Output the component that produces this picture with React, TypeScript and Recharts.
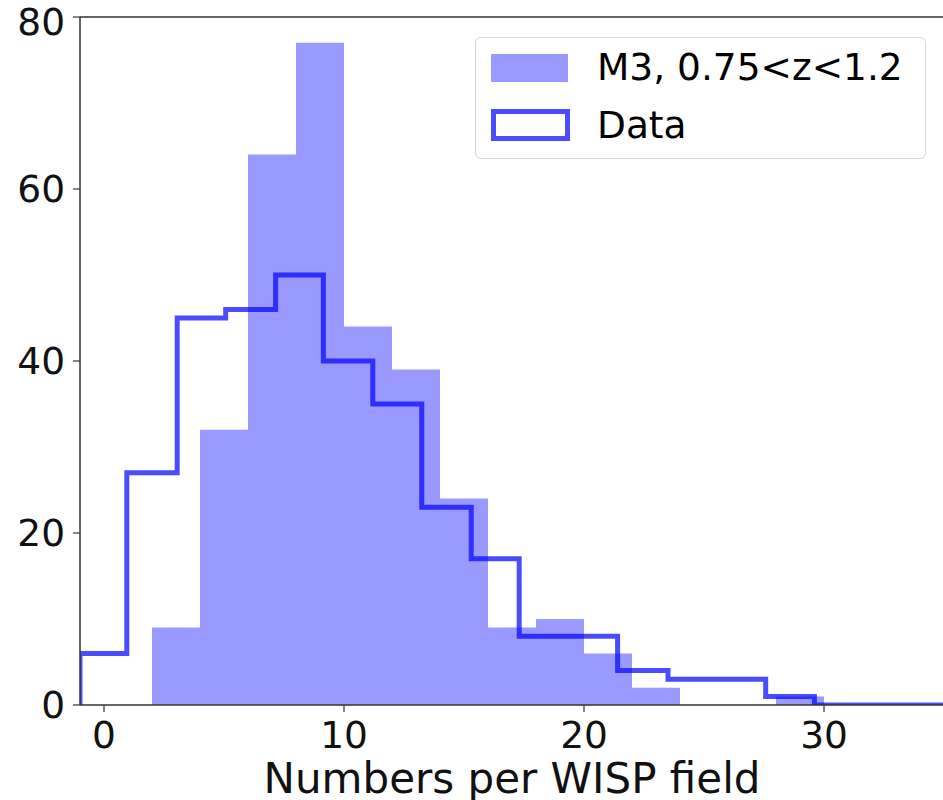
import { ComposedChart, Area, Line, XAxis, YAxis, ReferenceLine } from 'recharts';

// M3 model histogram, bins of width 2
const m3Edges = [2, 4, 6, 8, 10, 12, 14, 16, 18, 20, 22, 24, 26, 28, 30];
const m3Counts = [9, 32, 64, 77, 44, 39, 24, 9, 10, 6, 2, 0, 0, 1];

// observed WISP counts (step outline)
const dataEdges = [-1, 0.95, 3.05, 5.07, 7.15, 9.14, 11.2, 13.24, 15.3, 17.3, 19.4, 21.4, 23.5, 25.5, 27.57, 29.6, 35];
const dataCounts = [6, 27, 45, 46, 50, 40, 35, 23, 17, 8, 8, 4, 3, 3, 1, 0];

const xTicks = [0, 10, 20, 30];
const yTicks = [0, 20, 40, 60, 80];

const FONT = '"DejaVu Sans", sans-serif';
const BLUE = '#0000ff';

type Row = { x: number; m3?: number; obs?: number };

function buildRows(): Row[] {
  const rows: Row[] = [];
  m3Edges.forEach((e, i) => {
    rows.push({ x: e, m3: i < m3Counts.length ? m3Counts[i] : 0 });
  });
  // start the outline from the baseline at the left edge
  rows.push({ x: dataEdges[0], obs: 0 });
  dataEdges.forEach((e, i) => {
    rows.push({ x: e, obs: i < dataCounts.length ? dataCounts[i] : 0 });
  });
  return rows.sort((a, b) => a.x - b.x);
}

const rows = buildRows();

function HistLegend() {
  const text: React.CSSProperties = {
    position: 'absolute',
    left: 121,
    fontFamily: FONT,
    fontSize: 37.5,
    lineHeight: '38px',
    color: '#000',
    whiteSpace: 'nowrap',
  };
  return (
    <div
      style={{
        position: 'absolute',
        left: 475,
        top: 37,
        width: 451,
        height: 122,
        boxSizing: 'border-box',
        border: '1.5px solid #d6d6d6',
        borderRadius: 6,
        background: 'rgba(255,255,255,0.8)',
      }}
    >
      <div style={{ position: 'absolute', left: 15, top: 16, width: 77, height: 28, background: BLUE, opacity: 0.4 }} />
      <div style={{ ...text, top: 10 }}>M3, 0.75&lt;z&lt;1.2</div>
      <div
        style={{
          position: 'absolute',
          left: 15,
          top: 71,
          width: 79,
          height: 32,
          boxSizing: 'border-box',
          border: '5px solid rgba(0,0,255,0.7)',
        }}
      />
      <div style={{ ...text, top: 68 }}>Data</div>
    </div>
  );
}

export default function App() {
  return (
    <div style={{ position: 'absolute', left: 0, top: 0, width: 943, height: 800, overflow: 'hidden', background: '#fff' }}>
      <ComposedChart width={944} height={800} data={rows} margin={{ top: 17, right: 0, bottom: 0, left: 0 }}>
        <XAxis
          dataKey="x"
          type="number"
          domain={[-1, 35]}
          allowDataOverflow
          ticks={xTicks}
          height={95}
          tickSize={7}
          tickMargin={9}
          tick={{ fontSize: 37.5, fontFamily: FONT, fill: '#111' }}
          tickLine={{ stroke: '#333', strokeWidth: 1.2 }}
          axisLine={{ stroke: '#333', strokeWidth: 1.5 }}
          label={{
            content: ({ viewBox }: any) => (
              <text
                x={viewBox.x + viewBox.width / 2}
                y={viewBox.y + 88}
                textAnchor="middle"
                fontSize={42}
                fontFamily={FONT}
                fill="#111"
              >
                Numbers per WISP field
              </text>
            ),
          }}
        />
        <YAxis
          type="number"
          domain={[0, 80]}
          ticks={yTicks}
          allowDataOverflow
          width={80}
          tickSize={7}
          tickMargin={8}
          tick={{ fontSize: 37.5, fontFamily: FONT, fill: '#111' }}
          tickLine={{ stroke: '#333', strokeWidth: 1.2 }}
          axisLine={{ stroke: '#333', strokeWidth: 1.5 }}
        />
        <Area
          dataKey="m3"
          name="M3, 0.75<z<1.2"
          type="stepAfter"
          connectNulls
          stroke="none"
          fill={BLUE}
          fillOpacity={0.4}
          isAnimationActive={false}
          dot={false}
          activeDot={false}
        />
        <Line
          dataKey="obs"
          name="Data"
          type="stepAfter"
          connectNulls
          stroke={BLUE}
          strokeOpacity={0.7}
          strokeWidth={5}
          strokeLinejoin="miter"
          dot={false}
          activeDot={false}
          isAnimationActive={false}
        />
        {/* top spine */}
        <ReferenceLine y={80} stroke="#333" strokeWidth={1.5} />
      </ComposedChart>
      <HistLegend />
    </div>
  );
}
